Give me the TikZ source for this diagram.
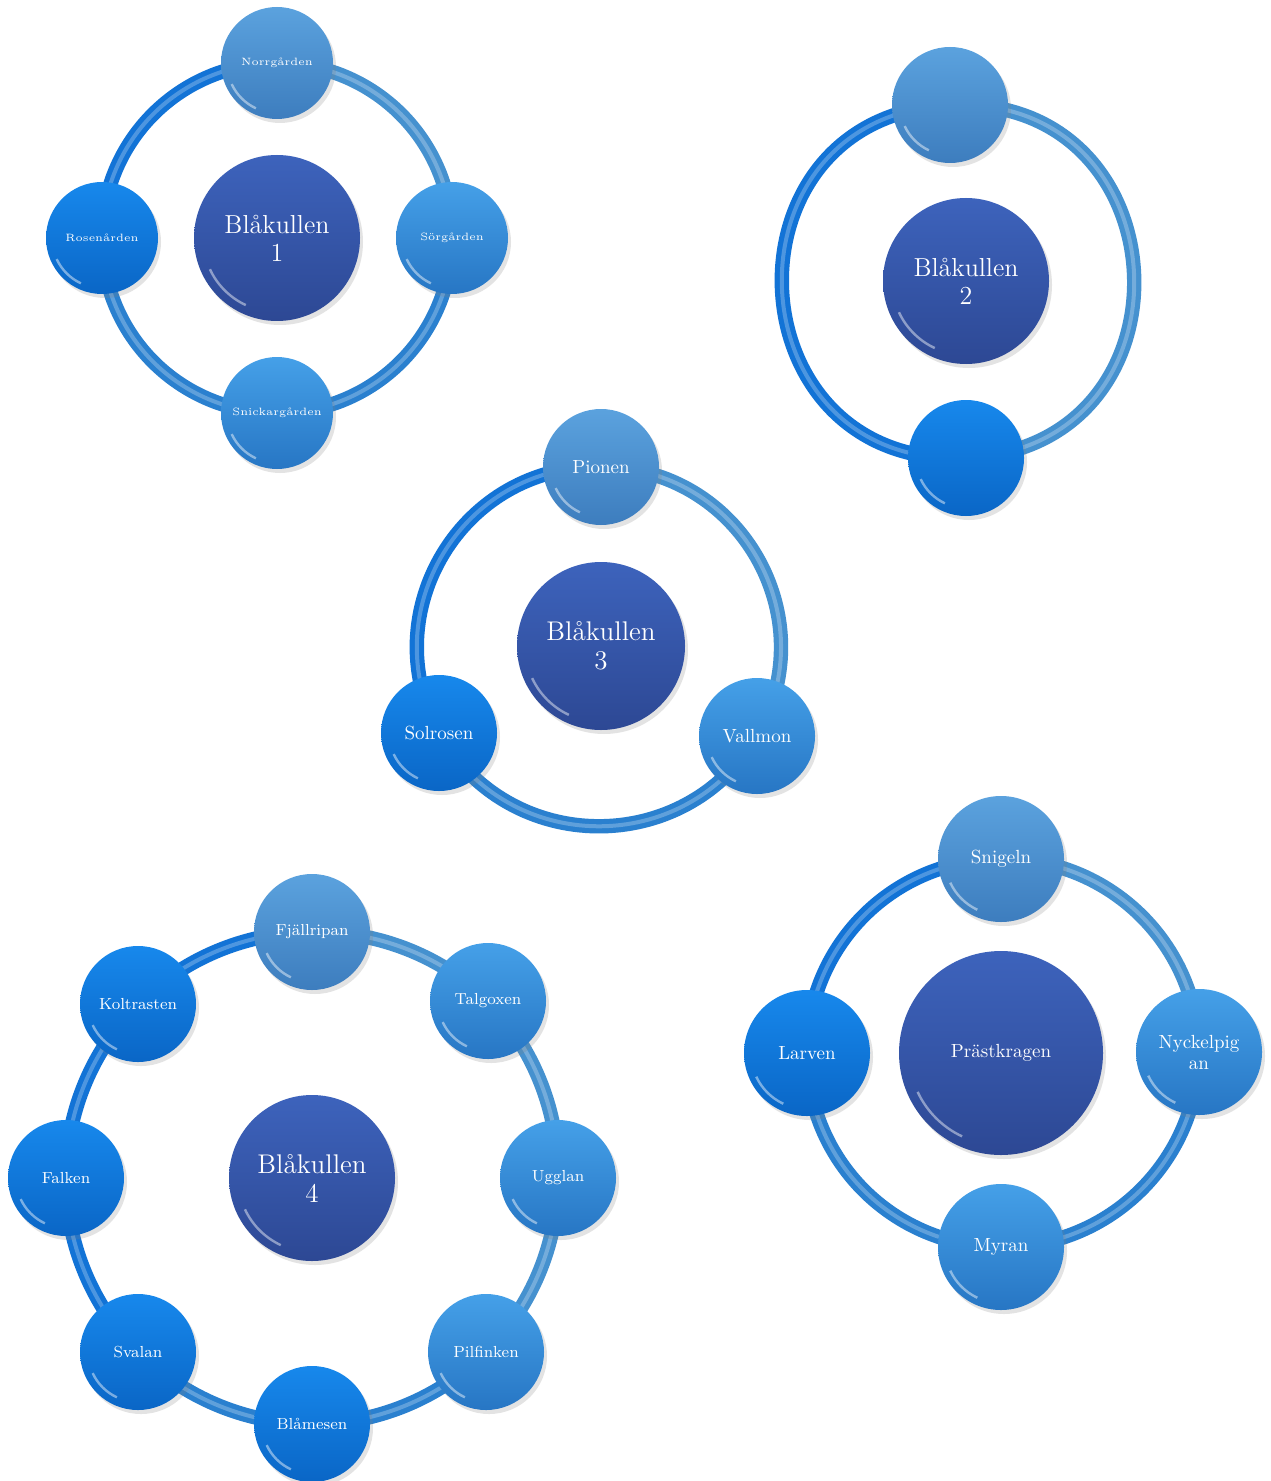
\documentclass[tikz,border=0pt]{standalone}
\usetikzlibrary{backgrounds,shadows}
\definecolor{hubtop}{HTML}{3D63BC}
\definecolor{hubbot}{HTML}{2D4894}
\definecolor{lighttop}{HTML}{5BA2DE}
\definecolor{lightbot}{HTML}{3D7DBE}
\definecolor{brighttop}{HTML}{1788EC}
\definecolor{brightbot}{HTML}{0A66C6}
\definecolor{midtop}{HTML}{45A0E8}
\definecolor{midbot}{HTML}{2776C4}
\definecolor{ringa}{HTML}{1273D6}
\definecolor{ringb}{HTML}{2A80CF}
\definecolor{ringc}{HTML}{4591CF}
\tikzset{gloss/.style = {path picture={\draw[white,opacity=.45,line width=1.2pt]
  ([shift={(205:#1)}]path picture bounding box.center) arc[start angle=205,end angle=245,radius=#1];}}}
\tikzset{shade3d/.style = {drop shadow={opacity=.22,shadow xshift=1.5pt,shadow yshift=-2pt}}}
\tikzset{hub/.style = {shape=circle,minimum size=#1,inner sep=0pt,align=center,text=white,
  top color=hubtop,bottom color=hubbot,shade3d}}
\tikzset{sat/.style = {shape=circle,minimum size=58pt,inner sep=0pt,align=center,text=white,shade3d,gloss=25pt}}
\tikzset{satlight/.style = {sat,top color=lighttop,bottom color=lightbot}}
\tikzset{satbright/.style = {sat,top color=brighttop,bottom color=brightbot}}
\tikzset{satmid/.style = {sat,top color=midtop,bottom color=midbot}}
\tikzset{ring/.style = {line width=2.6pt,draw=#1,double=#1!75!white,double distance=2pt}}

\begin{document}
\begin{tikzpicture}[x=0.5pt,y=-0.5pt]
  \path[use as bounding box] (0,0) rectangle (1270,1481);

  % Blåkullen 1
  \node[hub=83pt,gloss=37pt,font=\fontsize{13}{14}\selectfont] (h1) at (277,238) {Blåkullen\\1};
  \begin{scope}[font=\fontsize{5.3}{6}\selectfont]
    \node[satlight,minimum size=56pt] (norr) at (277,63) {Norrgården};
    \node[satmid,minimum size=56pt] (sor) at (452,238) {Sörgården};
    \node[satmid,minimum size=56pt] (snick) at (277,413) {Snickargården};
    \node[satbright,minimum size=56pt] (rosen) at (102,238) {Rosenården};
  \end{scope}

  % Blåkullen 2
  \node[hub=83pt,gloss=37pt,font=\fontsize{13}{14}\selectfont] (h2) at (966,281) {Blåkullen\\2};
  \node[satlight] (upp) at (950,105) {};
  \node[satbright] (ned) at (966,458) {};

  % Blåkullen 3
  \node[hub=84pt,gloss=38pt,font=\fontsize{13.5}{14.5}\selectfont] (h3) at (601,646) {Blåkullen\\3};
  \begin{scope}[font=\fontsize{9.5}{10.5}\selectfont]
    \node[satlight] (pionen) at (601,467) {Pionen};
    \node[satmid] (vallmon) at (757,736) {Vallmon};
    \node[satbright] (solrosen) at (439,733) {Solrosen};
  \end{scope}

  % Blåkullen 4
  \node[hub=83pt,gloss=37pt,font=\fontsize{13.5}{14.5}\selectfont] (h4) at (312,1178) {Blåkullen\\4};
  \begin{scope}[font=\fontsize{8}{9}\selectfont]
    \node[satlight] (fjall) at (312,932) {Fjällripan};
    \node[satmid] (talg) at (488,1001) {Talgoxen};
    \node[satmid] (uggla) at (558,1178) {Ugglan};
    \node[satmid] (pilf) at (486,1352) {Pilfinken};
    \node[satbright] (blames) at (312,1424) {Blåmesen};
    \node[satbright] (svala) at (138,1352) {Svalan};
    \node[satbright] (falk) at (66,1178) {Falken};
    \node[satbright] (kolt) at (138,1004) {Koltrasten};
  \end{scope}

  % Prästkragen
  \node[hub=102pt,gloss=46pt,font=\fontsize{9.5}{10.5}\selectfont] (h5) at (1001,1053) {Prästkragen};
  \begin{scope}[font=\fontsize{9.5}{10.5}\selectfont]
    \node[satlight,minimum size=63pt,gloss=28pt] (snigel) at (1001,859) {Snigeln};
    \node[satmid,minimum size=63pt,gloss=28pt] (nyckel) at (1199,1052) {Nyckelpig\\an};
    \node[satmid,minimum size=63pt,gloss=28pt] (myra) at (1001,1247) {Myran};
    \node[satbright,minimum size=63pt,gloss=28pt] (larv) at (807,1053) {Larven};
  \end{scope}

  \begin{scope}[on background layer]
    \fill[white] (0,0) rectangle (1270,1481);
    % rings, clockwise
    \draw[ring=ringc] (norr.center) to[bend left=45] (sor.center);
    \draw[ring=ringb] (sor.center) to[bend left=45] (snick.center);
    \draw[ring=ringb] (snick.center) to[bend left=45] (rosen.center);
    \draw[ring=ringa] (rosen.center) to[bend left=45] (norr.center);

    \draw[ring=ringc] (upp.center) to[bend left=90,looseness=1.7] (ned.center);
    \draw[ring=ringa] (ned.center) to[bend left=90,looseness=1.7] (upp.center);

    \draw[ring=ringc] (pionen.center) to[bend left=60,looseness=1.135] (vallmon.center);
    \draw[ring=ringb] (vallmon.center) to[bend left=60,looseness=1.135] (solrosen.center);
    \draw[ring=ringa] (solrosen.center) to[bend left=60,looseness=1.135] (pionen.center);

    \draw[ring=ringc] (fjall.center) to[bend left=22.5,looseness=.885] (talg.center);
    \draw[ring=ringc] (talg.center) to[bend left=22.5,looseness=.885] (uggla.center);
    \draw[ring=ringc] (uggla.center) to[bend left=22.5,looseness=.885] (pilf.center);
    \draw[ring=ringb] (pilf.center) to[bend left=22.5,looseness=.885] (blames.center);
    \draw[ring=ringb] (blames.center) to[bend left=22.5,looseness=.885] (svala.center);
    \draw[ring=ringa] (svala.center) to[bend left=22.5,looseness=.885] (falk.center);
    \draw[ring=ringa] (falk.center) to[bend left=22.5,looseness=.885] (kolt.center);
    \draw[ring=ringa] (kolt.center) to[bend left=22.5,looseness=.885] (fjall.center);

    \draw[ring=ringc] (snigel.center) to[bend left=45] (nyckel.center);
    \draw[ring=ringb] (nyckel.center) to[bend left=45] (myra.center);
    \draw[ring=ringb] (myra.center) to[bend left=45] (larv.center);
    \draw[ring=ringa] (larv.center) to[bend left=45] (snigel.center);
  \end{scope}
\end{tikzpicture}
\end{document}
